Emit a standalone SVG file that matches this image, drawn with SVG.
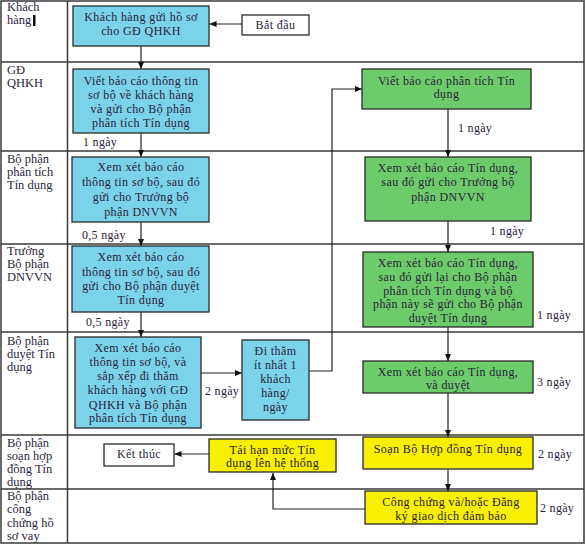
<svg xmlns="http://www.w3.org/2000/svg" width="586" height="547" viewBox="0 0 586 547" font-family="Liberation Serif, DejaVu Serif, serif">
<defs>
<style>
.grid{stroke:#3a3a3a;stroke-width:1.5;fill:none}
.lane{font-size:12.5px;fill:#2e2640}
.bt{font-size:12px;fill:#2a2238;text-anchor:middle;letter-spacing:0.4px}
.lb{font-size:12px;fill:#2a2238;letter-spacing:0.3px}
.cyan{fill:#7bd3ea;stroke:#2a2a2a;stroke-width:1.3}
.green{fill:#6ccc6c;stroke:#2a2a2a;stroke-width:1.3}
.yellow{fill:#f8f000;stroke:#2a2a2a;stroke-width:1.3}
.white{fill:#ffffff;stroke:#2a2a2a;stroke-width:1.3}
.con{stroke:#222;stroke-width:1.2;fill:none;marker-end:url(#ah)}
.conn{stroke:#222;stroke-width:1.2;fill:none}
</style>
<marker id="ah" markerWidth="8" markerHeight="8" refX="7" refY="4" orient="auto" markerUnits="userSpaceOnUse">
<path d="M0,1 L7,4 L0,7 Z" fill="#111"/>
</marker>
</defs>
<rect width="586" height="547" fill="#ffffff"/>
<g id="table">
<rect class="grid" x="1" y="1" width="583" height="542"/>
<line class="grid" x1="67.5" y1="1" x2="67.5" y2="543"/>
<line class="grid" x1="1" y1="62" x2="584" y2="62"/>
<line class="grid" x1="1" y1="151" x2="584" y2="151"/>
<line class="grid" x1="1" y1="244" x2="584" y2="244"/>
<line class="grid" x1="1" y1="332" x2="584" y2="332"/>
<line class="grid" x1="1" y1="435" x2="584" y2="435"/>
<line class="grid" x1="1" y1="489" x2="584" y2="489"/>
</g>
<g id="lanes">
<text class="lane" x="7" y="11">Khách</text>
<text class="lane" x="7" y="24">hàng</text>
<rect x="33" y="15" width="2.5" height="11" fill="#111"/>
<text class="lane" x="7" y="74">GĐ</text>
<text class="lane" x="7" y="87">QHKH</text>
<text class="lane" x="7" y="163">Bộ phận</text>
<text class="lane" x="7" y="176">phân tích</text>
<text class="lane" x="7" y="189">Tín dụng</text>
<text class="lane" x="7" y="255">Trưởng</text>
<text class="lane" x="7" y="268">Bộ phận</text>
<text class="lane" x="7" y="281">DNVVN</text>
<text class="lane" x="7" y="345">Bộ phận</text>
<text class="lane" x="7" y="358">duyệt Tín</text>
<text class="lane" x="7" y="371">dụng</text>
<text class="lane" x="7" y="447">Bộ phận</text>
<text class="lane" x="7" y="460">soạn hợp</text>
<text class="lane" x="7" y="473">đồng Tín</text>
<text class="lane" x="7" y="486">dụng</text>
<text class="lane" x="7" y="500">Bộ phận</text>
<text class="lane" x="7" y="513">công</text>
<text class="lane" x="7" y="527">chứng hồ</text>
<text class="lane" x="7" y="540">sơ vay</text>
</g>
<g id="connectors">
<line class="con" x1="242" y1="24" x2="209.5" y2="24"/>
<line class="con" x1="141" y1="46" x2="141" y2="69"/>
<line class="con" x1="141" y1="133" x2="141" y2="157"/>
<line class="con" x1="141" y1="222" x2="141" y2="246"/>
<line class="con" x1="141" y1="312" x2="141" y2="337"/>
<line class="con" x1="201" y1="373" x2="242" y2="373"/>
<polyline class="con" points="309,371 332,371 332,89 362,89"/>
<line class="conn" x1="448" y1="109" x2="448" y2="151"/>
<line class="con" x1="448" y1="151" x2="448" y2="157"/>
<line class="con" x1="448" y1="221" x2="448" y2="252"/>
<line class="con" x1="448" y1="327" x2="448" y2="361"/>
<line class="con" x1="448" y1="393" x2="448" y2="437"/>
<line class="con" x1="448" y1="469" x2="448" y2="491"/>
<polyline class="con" points="365,509 273,509 273,473"/>
<line class="con" x1="209" y1="454" x2="174.5" y2="454"/>
</g>
<g id="n_start"><rect class="white" x="242" y="15" width="67" height="20"/><text class="bt" x="275.5" y="29">Bắt đầu</text></g>
<g id="n1"><rect class="cyan" x="73" y="6" width="136" height="40"/>
<text class="bt" x="141" y="21">Khách hàng gửi hồ sơ</text><text class="bt" x="141" y="35">cho GĐ QHKH</text></g>
<g id="n2"><rect class="cyan" x="73" y="69" width="136" height="64"/>
<text class="bt" x="141" y="85">Viết báo cáo thông tin</text><text class="bt" x="141" y="99">sơ bộ về khách hàng</text><text class="bt" x="141" y="113">và gửi cho Bộ phận</text><text class="bt" x="141" y="127">phân tích Tín dụng</text></g>
<text class="lb" x="83" y="146">1 ngày</text>
<g id="n3"><rect class="cyan" x="72" y="157" width="137" height="65"/>
<text class="bt" x="141" y="171">Xem xét báo cáo</text><text class="bt" x="141" y="186">thông tin sơ bộ, sau đó</text><text class="bt" x="141" y="201">gửi cho Trưởng bộ</text><text class="bt" x="141" y="216">phận DNVVN</text></g>
<text class="lb" x="82" y="239">0,5 ngày</text>
<g id="n4"><rect class="cyan" x="72" y="246" width="137" height="66"/>
<text class="bt" x="141" y="261">Xem xét báo cáo</text><text class="bt" x="141" y="276">thông tin sơ bộ, sau đó</text><text class="bt" x="141" y="290">gửi cho Bộ phận duyệt</text><text class="bt" x="141" y="304">Tín dụng</text></g>
<text class="lb" x="86" y="326">0,5 ngày</text>
<g id="n5"><rect class="cyan" x="75" y="337" width="126" height="91"/>
<text class="bt" x="138" y="352">Xem xét báo cáo</text><text class="bt" x="138" y="366">thông tin sơ bộ, và</text><text class="bt" x="138" y="380">sắp  xếp đi thăm</text><text class="bt" x="138" y="394">khách hàng với GĐ</text><text class="bt" x="138" y="409">QHKH và Bộ phận</text><text class="bt" x="138" y="422">phân tích Tín dụng</text></g>
<text class="lb" x="205" y="395">2 ngày</text>
<g id="n6"><rect class="cyan" x="242" y="340" width="67" height="80"/>
<text class="bt" x="275.5" y="355">Đi thăm</text><text class="bt" x="275.5" y="369">ít nhất 1</text><text class="bt" x="275.5" y="383">khách</text><text class="bt" x="275.5" y="397">hàng/</text><text class="bt" x="275.5" y="411">ngày</text></g>
<g id="n7"><rect class="green" x="362" y="69" width="169" height="40"/>
<text class="bt" x="446.5" y="85">Viết báo cáo phân tích Tín</text><text class="bt" x="446.5" y="98">dụng</text></g>
<text class="lb" x="458" y="132">1 ngày</text>
<g id="n8"><rect class="green" x="365" y="157" width="166" height="64"/>
<text class="bt" x="448" y="172">Xem xét báo cáo Tín dụng,</text><text class="bt" x="448" y="186">sau đó gửi cho Trưởng bộ</text><text class="bt" x="448" y="201">phận DNVVN</text></g>
<text class="lb" x="490" y="235">1 ngày</text>
<g id="n9"><rect class="green" x="363" y="252" width="170" height="75"/>
<text class="bt" x="448" y="267">Xem xét báo cáo Tín dụng,</text><text class="bt" x="448" y="281">sau đó gửi lại cho Bộ phận</text><text class="bt" x="448" y="295">phân tích Tín dụng và bộ</text><text class="bt" x="448" y="308">phận này sẽ gửi cho Bộ phận</text><text class="bt" x="448" y="322">duyệt Tín dụng</text></g>
<text class="lb" x="537" y="319">1 ngày</text>
<g id="n10"><rect class="green" x="363" y="361" width="170" height="32"/>
<text class="bt" x="448" y="376">Xem xét báo cáo Tín dụng,</text><text class="bt" x="448" y="389">và duyệt</text></g>
<text class="lb" x="537" y="386">3  ngày</text>
<g id="n11"><rect class="yellow" x="363" y="437" width="170" height="32"/>
<text class="bt" x="448" y="453">Soạn Bộ Hợp đồng Tín dụng</text></g>
<text class="lb" x="538" y="458">2  ngày</text>
<g id="n12"><rect class="yellow" x="365" y="491" width="172" height="33"/>
<text class="bt" x="451" y="506">Công chứng và/hoặc Đăng</text><text class="bt" x="451" y="520">ký giao dịch đảm bảo</text></g>
<text class="lb" x="540" y="512">2  ngày</text>
<g id="n13"><rect class="yellow" x="209" y="439" width="127" height="33"/>
<text class="bt" x="272.5" y="454">Tái hạn mức Tín</text><text class="bt" x="272.5" y="467">dụng lên hệ thống</text></g>
<g id="n_end"><rect class="white" x="104" y="444" width="70" height="22"/><text class="bt" x="139" y="458">Kết thúc</text></g>
</svg>
